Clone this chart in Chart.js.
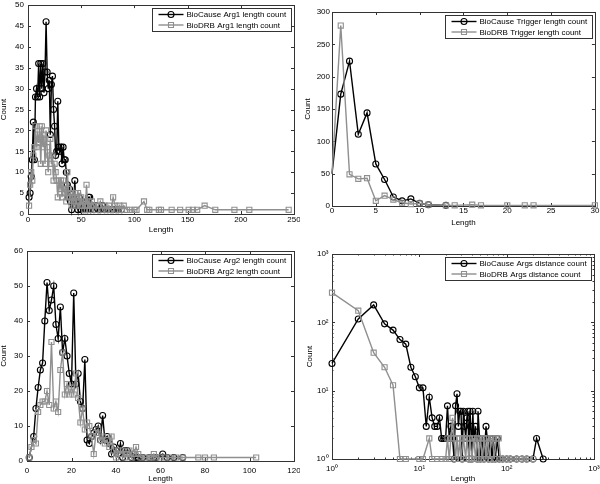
<!DOCTYPE html>
<html>
<head>
<meta charset="utf-8">
<script src="https://cdn.jsdelivr.net/npm/chart.js@4.4.1/dist/chart.umd.min.js"></script>
<style>
  body { margin: 0; background: #fff; }
  #wrap { position: relative; width: 600px; height: 484px; }
  canvas { position: absolute; }
</style>
</head>
<body>
<div id="wrap">
  <canvas id="arg1" width="300" height="240" style="left:0;top:0"></canvas>
  <canvas id="trig" width="300" height="240" style="left:300px;top:0"></canvas>
  <canvas id="arg2" width="300" height="244" style="left:0;top:240px"></canvas>
  <canvas id="dist" width="300" height="244" style="left:300px;top:240px"></canvas>
</div>
<script>
// Arg1 length counts
const causeArg1Len = [1,2,3,4,5,6,7,8,9,10,11,12,13,14,15,16,17,18,19,20,21,22,23,24,25,26,27,28,29,30,
  31,32,33,34,35,36,37,38,39,40,41,42,43,44,45,46,47,48,49,50,51,52,53,54,55,56,57,58,59,60,
  62,64,66,68,70,72,75,78,80,83,85,88];
const causeArg1Cnt = [4,5,9,13,22,13,28,30,28,36,28,36,30,36,29,34,46,34,30,32,19,31,33,25,21,14,15,27,16,15,
  16,12,16,13,13,10,7,4,6,3,1,4,3,8,2,3,1,4,2,1,3,1,2,1,2,1,4,4,1,2,
  1,2,1,1,2,1,1,1,1,1,1,1];
const drbArg1Len = [1,2,3,4,5,6,7,8,9,10,11,12,13,14,15,16,17,18,19,20,21,22,23,24,25,26,27,28,29,30,
  31,32,33,34,35,36,37,38,39,40,41,42,43,44,45,46,47,48,49,50,51,52,53,54,55,56,57,58,59,60,
  62,64,66,68,70,72,74,76,78,80,82,84,86,88,90,93,96,100,
  102,109,112,114,123,125,135,143,151,155,159,166,176,194,208,245];
const drbArg1Cnt = [2,7,10,8,14,16,21,16,19,17,21,12,21,16,19,12,20,16,10,14,18,12,14,8,12,10,8,4,8,6,
  8,4,8,5,6,3,10,6,4,5,2,4,3,5,2,4,5,3,2,4,2,3,1,2,7,2,3,1,2,3,
  2,1,2,3,1,2,1,2,1,4,2,1,2,1,2,1,1,1,
  1,3,1,1,1,1,1,1,1,1,1,2,1,1,1,1];

// Trigger length counts
const causeTrigLen = [0,1,2,3,4,5,6,7,8,9,10,11,13];
const causeTrigCnt = [50,173,224,111,144,65,41,14,8,11,4,2,1];
const drbTrigLen = [0,1,2,3,4,5,6,7,8,9,10,11,13,14,16,17,20,22,23,30];
const drbTrigCnt = [50,279,49,42,43,8,16,10,5,3,4,2,1,1,2,1,1,1,1,1];

// Arg2 length counts
const causeArg2Len = [1,3,4,5,6,7,8,9,10,11,12,13,14,15,16,17,18,19,20,21,22,23,24,25,26,27,28,29,30,
  31,32,33,34,35,36,37,38,39,40,41,42,43,44,45,46,47,48,49,50,52,55,57,58,61,63,66,70];
const causeArg2Cnt = [1,7,15,21,26,28,40,51,43,46,50,39,35,44,31,35,30,25,22,48,22,25,17,15,29,6,5,7,8,
  9,10,6,13,6,7,5,2,4,3,2,5,1,3,3,2,1,2,1,1,1,1,1,1,2,1,1,1];
const drbArg2Len = [1,2,3,4,5,6,7,8,9,10,11,12,13,14,15,16,17,18,19,20,21,22,23,24,25,26,27,28,29,30,
  31,32,33,34,35,36,37,38,39,40,41,42,43,44,45,46,47,48,49,50,51,
  53,55,56,57,58,60,62,64,67,70,77,80,84,103];
const drbArg2Cnt = [1,4,6,5,14,16,17,17,20,16,34,15,17,14,26,31,19,22,19,21,19,25,18,11,15,9,11,10,7,2,
  8,9,6,7,5,6,4,7,3,1,3,2,3,1,2,3,1,2,4,2,1,
  1,1,1,2,1,1,1,1,1,1,1,1,1,1];

// Args distance counts (log-log)
const causeDistLen = [1,2,3,4,5,6,7,8,9,10,11,12,13,14,15,16,17,18,19,20,21,22,23,24,25,26,27,28,29,30,
  31,32,33,34,35,36,37,38,39,40,41,42,44,46,47,49,50,52,55,58,60,62,65,68,70,74,78,82,90,
  100,110,130,150,170,200,220,262];
const causeDistCnt = [25,112,180,95,77,56,48,22,16,11,11,3,8,4,3,3,4,2,2,2,6,2,3,2,1,6,9,3,5,5,
  1,5,3,2,4,5,1,5,3,1,5,2,3,1,5,2,1,2,1,3,2,1,2,1,2,1,2,1,1,
  1,1,1,1,1,1,2,1];
const drbDistLen = [1,2,3,4,5,6,7,10,11,13,14,16,18,20,21,22,23,24,25,26,27,28,29,30,
  32,34,35,37,38,40,42,44,46,48,50,53,55,58,60,64,66,69,72,76,81,
  85,90,95,100,110,120,130,140,150,165,180,200];
const drbDistCnt = [272,148,36,22,12,1,1,1,1,2,1,1,1,1,2,1,2,4,2,1,2,1,2,1,
  2,1,2,1,2,1,2,1,2,1,2,1,2,1,2,1,2,2,1,2,2,
  1,1,1,1,1,1,1,1,1,1,1,1];

const FONT = '"Liberation Sans", Arial, sans-serif';
Chart.defaults.font.family = FONT;
Chart.defaults.font.size = 8;
Chart.defaults.color = '#000';

const GRAY = '#8f8f8f';

// matlab style box with inward ticks on all four sides
const boxTicks = {
  id: 'boxTicks',
  beforeDatasetsDraw(chart) {
    const { ctx, chartArea: a, scales: { x, y } } = chart;
    ctx.save();
    ctx.strokeStyle = '#333';
    ctx.lineWidth = 1;
    ctx.beginPath();
    const xm = (v, len) => {
      const px = Math.round(x.getPixelForValue(v)) + 0.5;
      ctx.moveTo(px, a.bottom); ctx.lineTo(px, a.bottom - len);
      ctx.moveTo(px, a.top); ctx.lineTo(px, a.top + len);
    };
    const ym = (v, len) => {
      const py = Math.round(y.getPixelForValue(v)) + 0.5;
      ctx.moveTo(a.left, py); ctx.lineTo(a.left + len, py);
      ctx.moveTo(a.right, py); ctx.lineTo(a.right - len, py);
    };
    x.ticks.forEach(t => xm(t.value, 3));
    y.ticks.forEach(t => ym(t.value, 3));
    if (x.type === 'logarithmic') {
      for (let d = 1; d < 1000; d *= 10) for (let k = 2; k < 10; k++) xm(d * k, 1.5);
    }
    if (y.type === 'logarithmic') {
      for (let d = 1; d < 1000; d *= 10) for (let k = 2; k < 10; k++) ym(d * k, 1.5);
    }
    ctx.stroke();
    ctx.strokeRect(Math.round(a.left) + 0.5, Math.round(a.top) + 0.5,
      Math.round(a.right - a.left), Math.round(a.bottom - a.top));
    ctx.restore();
  }
};

// legend box in the upper right corner of the axes
const boxLegend = {
  id: 'boxLegend',
  afterDraw(chart) {
    const { ctx, chartArea: a } = chart;
    const sets = chart.data.datasets;
    ctx.save();
    ctx.font = '8px ' + FONT;
    const tw = Math.max(...sets.map(d => ctx.measureText(d.label).width));
    const w = Math.round(34 + tw + 5), h = 23;
    const x0 = Math.round(a.right - 3 - w) + 0.5, y0 = Math.round(a.top + 3) + 0.5;
    ctx.fillStyle = '#fff';
    ctx.fillRect(x0, y0, w, h);
    ctx.strokeStyle = '#333';
    ctx.lineWidth = 1;
    ctx.strokeRect(x0, y0, w, h);
    sets.forEach((d, i) => {
      const yy = y0 + 6 + i * 10.5;
      ctx.strokeStyle = d.borderColor;
      ctx.lineWidth = d.borderWidth;
      ctx.beginPath();
      ctx.moveTo(x0 + 6, yy); ctx.lineTo(x0 + 31, yy);
      ctx.stroke();
      ctx.lineWidth = 1.1;
      ctx.beginPath();
      if (d.pointStyle === 'circle') ctx.arc(x0 + 18.5, yy, 3, 0, Math.PI * 2);
      else ctx.rect(x0 + 16, yy - 2.5, 5, 5);
      ctx.stroke();
      ctx.fillStyle = '#000';
      ctx.textBaseline = 'middle';
      ctx.fillText(d.label, x0 + 34, yy + 0.5);
    });
    ctx.restore();
  }
};

function series(label, xs, ys, color, style, order, hideFirst) {
  const r = style === 'circle' ? 3 : 3.6;
  return {
    label,
    data: xs.map((v, i) => ({ x: v, y: ys[i] })),
    borderColor: color,
    borderWidth: 1.4,
    pointStyle: style,
    pointRadius: c => (hideFirst && c.dataIndex === 0) ? 0 : r,
    pointBorderColor: color,
    pointBackgroundColor: 'rgba(0,0,0,0)',
    pointBorderWidth: 1.1,
    tension: 0,
    order,
    clip: false
  };
}

const logLabels = { 1: '10⁰', 10: '10¹', 100: '10²', 1000: '10³' };

function axis(o, isX) {
  const log = o.log;
  const ax = {
    type: log ? 'logarithmic' : 'linear',
    min: o.min,
    max: o.max,
    grid: { display: false, drawTicks: false },
    border: { display: false },
    ticks: {
      padding: o.tickPad,
      autoSkip: false,
      maxRotation: 0,
      color: '#000',
      font: { size: 8 }
    },
    title: {
      display: true,
      text: isX ? 'Length' : 'Count',
      color: '#000',
      font: { size: 8 },
      padding: isX ? { top: 0, bottom: o.titlePad } : { top: o.titlePad, bottom: 0 }
    },
    afterFit: s => {
      if (isX) { s.height = o.size; s.paddingLeft = 0; s.paddingRight = 0; }
      else { s.width = o.size; s.paddingTop = 0; s.paddingBottom = 0; }
    }
  };
  if (log) {
    ax.afterBuildTicks = s => { s.ticks = [1, 10, 100, 1000].map(v => ({ value: v })); };
    ax.ticks.callback = v => logLabels[v] || '';
  } else {
    ax.ticks.stepSize = o.step;
  }
  return ax;
}

function panel(id, o) {
  return new Chart(document.getElementById(id), {
    type: 'line',
    data: {
      datasets: [
        series(o.labels[0], o.cause[0], o.cause[1], '#000', 'circle', 1, o.hideFirst),
        series(o.labels[1], o.drb[0], o.drb[1], GRAY, 'rect', 0, o.hideFirst)
      ]
    },
    options: {
      responsive: false,
      animation: false,
      layout: { padding: { left: 0, right: o.right, top: o.top, bottom: 0 } },
      plugins: { legend: { display: false }, tooltip: { enabled: false } },
      scales: { x: axis(o.x, true), y: axis(o.y, false) }
    },
    plugins: [boxTicks, boxLegend]
  });
}

panel('arg1', {
  labels: ['BioCause Arg1 length count', 'BioDRB Arg1 length count'],
  cause: [causeArg1Len, causeArg1Cnt], drb: [drbArg1Len, drbArg1Cnt],
  right: 6, top: 3,
  x: { min: 0, max: 250, step: 50, size: 26, tickPad: 1, titlePad: 5 },
  y: { min: 0, max: 50, step: 5, size: 28, tickPad: 4, titlePad: -1.5 }
});

panel('trig', {
  labels: ['BioCause Trigger length count', 'BioDRB Trigger length count'],
  cause: [causeTrigLen, causeTrigCnt], drb: [drbTrigLen, drbTrigCnt],
  right: 5, top: 12, hideFirst: true,
  x: { min: 0, max: 30, step: 5, size: 34, tickPad: 0, titlePad: 12.5 },
  y: { min: 0, max: 300, step: 50, size: 32, tickPad: 2, titlePad: 2.5 }
});

panel('arg2', {
  labels: ['BioCause Arg2 length count', 'BioDRB Arg2 length count'],
  cause: [causeArg2Len, causeArg2Cnt], drb: [drbArg2Len, drbArg2Cnt],
  right: 6, top: 11,
  x: { min: 0, max: 120, step: 20, size: 23, tickPad: 4.5, titlePad: 0.5 },
  y: { min: 0, max: 60, step: 10, size: 27, tickPad: 4, titlePad: -1.5 }
});

panel('dist', {
  labels: ['BioCause Args distance count', 'BioDRB Args distance count'],
  cause: [causeDistLen, causeDistCnt], drb: [drbDistLen, drbDistCnt],
  right: 6, top: 14,
  x: { log: true, min: 1, max: 1000, size: 25, tickPad: 5, titlePad: 0.5 },
  y: { log: true, min: 1, max: 1000, size: 32, tickPad: 3.5, titlePad: 5 }
});
</script>
</body>
</html>
